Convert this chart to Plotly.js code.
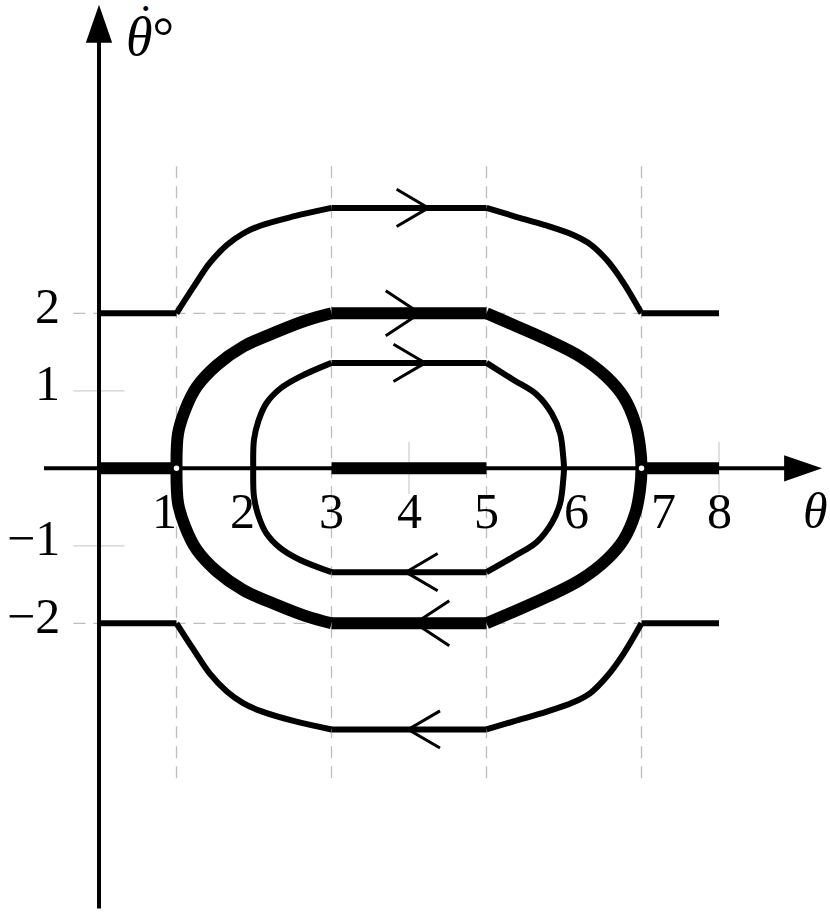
<!DOCTYPE html>
<html>
<head>
<meta charset="utf-8">
<script src="https://cdn.plot.ly/plotly-3.0.1.min.js"></script>
<style>
  html, body { margin: 0; padding: 0; background: #fff; }
  #phase { width: 830px; height: 913px; }
</style>
</head>
<body>
<div id="phase"></div>
<script>
// tick labels
const xTickVals = [1, 2, 3, 4, 5, 6, 7, 8];
const xTickText = ['1', '2', '3', '4', '5', '6', '7', '8'];
const yTickVals = [2, 1, -1, -2];
const yTickText = ['2', '1', '\u22121', '\u22122'];

// orbits outside the separatrix (left and right bends share x)
const outerLeftX = [1, 1.22, 1.43, 1.65, 1.86, 2.08, 2.51, 3];
const outerUpperLeftY = [2, 2.34, 2.65, 2.88, 3.03, 3.13, 3.25, 3.36];
const outerLowerLeftY = [-2, -2.34, -2.65, -2.88, -3.03, -3.13, -3.26, -3.37];
const outerRightX = [5, 5.35, 5.78, 6.12, 6.34, 6.55, 6.77, 7];
const outerUpperRightY = [3.36, 3.255, 3.13, 3.01, 2.89, 2.69, 2.39, 2];
const outerLowerRightY = [-3.37, -3.265, -3.14, -3.02, -2.9, -2.69, -2.39, -2];
const outerUpperFlatY = [2, 3.36, 2];
const outerLowerFlatY = [-2, -3.37, -2];
const flatSpans = [[0, 1], [3, 5], [7, 8]];

// separatrix
const sepLeftX = [3, 2.68, 2.29, 1.86, 1.52, 1.26, 1.11, 1.02, 1, 1.02, 1.11, 1.26, 1.52, 1.86, 2.29, 2.68, 3];
const sepLeftY = [-2, -1.91, -1.76, -1.57, -1.33, -1.05, -0.75, -0.45, 0, 0.45, 0.75, 1.05, 1.33, 1.57, 1.76, 1.91, 2];
const sepRightX = [5, 5.35, 5.78, 6.21, 6.55, 6.77, 6.92, 6.98, 7, 6.98, 6.92, 6.77, 6.55, 6.21, 5.78, 5.35, 5];
const sepRightY = [2, 1.85, 1.66, 1.44, 1.18, 0.92, 0.58, 0.28, 0, -0.28, -0.58, -0.92, -1.18, -1.44, -1.66, -1.85, -2];
const sepFlatY = [2, -2];
const sepAxisSpans = [[0, 1], [3, 5], [7, 8]];
const saddleX = [1, 7];
const saddleY = [0, 0];

// closed orbit inside
const innerLeftX = [3, 2.59, 2.34, 2.16, 2.06, 2.0, 1.99, 2.0, 2.06, 2.16, 2.34, 2.59, 3];
const innerLeftY = [-1.34, -1.18, -1.03, -0.84, -0.62, -0.37, 0, 0.37, 0.62, 0.84, 1.03, 1.18, 1.36];
const innerRightX = [5, 5.35, 5.65, 5.84, 5.95, 5.99, 6.0, 5.99, 5.95, 5.84, 5.65, 5.35, 5];
const innerRightY = [1.36, 1.14, 0.95, 0.71, 0.45, 0.15, 0, -0.15, -0.45, -0.71, -0.95, -1.14, -1.34];
const innerFlatY = [1.36, -1.34];

// direction chevrons
const chevronX = [4.25, 4.14, 4.21, 3.96, 4.08, 3.99];
const chevronY = [3.36, 2, 1.36, -1.34, -2, -3.37];
const chevronDir = [1, 1, 1, -1, -1, -1];

// guide lines
const dashedX = [1, 3, 5, 7];
const dashedY = [2, -2];
const minorXTicks = [2, 4, 6, 8];
const minorYTicks = [1, -1];

const INK = '#000';
const GUIDE = '#bdbdbd';
const THIN = 6;
const THICK = 12;
const FONT = 'Liberation Serif, Times New Roman, serif';

const traces = [];

const line = (x, y, width, opts = {}) => {
  traces.push({
    x, y,
    type: 'scatter',
    mode: 'lines',
    hoverinfo: 'skip',
    line: Object.assign({ color: INK, width }, opts)
  });
};

// dashed guides + light ticks
dashedX.forEach(v => line([v, v], [-4, 4], 1.3, { color: GUIDE, dash: '12px,8px' }));
dashedY.forEach(v => line([-0.33, 7], [v, v], 1.3, { color: GUIDE, dash: '12px,8px' }));
minorXTicks.forEach(v => line([v, v], [-0.33, 0.34], 1.3, { color: '#cfcfcf' }));
minorYTicks.forEach(v => line([-0.33, 0.33], [v, v], 1.3, { color: '#cfcfcf' }));

// axes
const xTip = 9.33, yTip = 5.98, headLen = 0.49, headHalf = 0.17;
line([-0.71, xTip - headLen + 0.05], [0, 0], 4);
line([0, 0], [-5.68, yTip - headLen + 0.05], 4);
traces.push({
  x: [xTip, xTip - headLen, xTip - headLen, xTip],
  y: [0, headHalf, -headHalf, 0],
  type: 'scatter', mode: 'lines', fill: 'toself', fillcolor: INK,
  line: { width: 0, color: INK }, hoverinfo: 'skip'
});
traces.push({
  x: [0, headHalf, -headHalf, 0],
  y: [yTip, yTip - headLen, yTip - headLen, yTip],
  type: 'scatter', mode: 'lines', fill: 'toself', fillcolor: INK,
  line: { width: 0, color: INK }, hoverinfo: 'skip'
});

// outer orbits
flatSpans.forEach((s, i) => {
  line(s, [outerUpperFlatY[i], outerUpperFlatY[i]], THIN);
  line(s, [outerLowerFlatY[i], outerLowerFlatY[i]], THIN);
});
line(outerLeftX, outerUpperLeftY, THIN, { shape: 'spline' });
line(outerRightX, outerUpperRightY, THIN, { shape: 'spline' });
line(outerLeftX, outerLowerLeftY, THIN, { shape: 'spline' });
line(outerRightX, outerLowerRightY, THIN, { shape: 'spline' });

// inner orbit
innerFlatY.forEach(v => line([3, 5], [v, v], THIN));
line(innerLeftX, innerLeftY, THIN, { shape: 'spline' });
line(innerRightX, innerRightY, THIN, { shape: 'spline' });

// separatrix
sepAxisSpans.forEach(s => line(s, [0, 0], THICK));
sepFlatY.forEach(v => line([3, 5], [v, v], THICK));
line(sepLeftX, sepLeftY, THICK, { shape: 'spline' });
line(sepRightX, sepRightY, THICK, { shape: 'spline' });

// chevrons
chevronX.forEach((cx, i) => {
  const d = chevronDir[i];
  const big = Math.abs(chevronY[i]) === 2;
  const ax = big ? 0.44 : 0.41;
  const ay = big ? 0.29 : 0.24;
  line([cx - d * ax, cx, cx - d * ax], [chevronY[i] + ay, chevronY[i], chevronY[i] - ay], 3);
});

// saddle points
traces.push({
  x: saddleX, y: saddleY,
  type: 'scatter', mode: 'markers', hoverinfo: 'skip',
  marker: { size: 8, color: '#fff', line: { color: INK, width: 2.5 } }
});

// labels
const xNudge = { 1: -0.15, 2: -0.15, 6: 0.16, 7: 0.28 };
const annotations = [];
xTickVals.forEach((v, i) => {
  annotations.push({
    x: v + (xNudge[v] || 0), y: -0.55, text: xTickText[i],
    showarrow: false, xanchor: 'center', yanchor: 'middle',
    font: { family: FONT, size: 50, color: INK }
  });
});
yTickVals.forEach((v, i) => {
  annotations.push({
    x: -0.48, y: v + 0.1, text: yTickText[i],
    showarrow: false, xanchor: 'right', yanchor: 'middle',
    font: { family: FONT, size: 50, color: INK }
  });
});
annotations.push({
  x: 9.24, y: -0.55, text: '<i>\u03b8</i>', showarrow: false,
  xanchor: 'center', yanchor: 'middle',
  font: { family: FONT, size: 50, color: INK }
});
annotations.push({
  x: 0.66, y: 5.56, text: '<i>\u03b8</i>\u00b0', showarrow: false,
  xanchor: 'center', yanchor: 'middle',
  font: { family: FONT, size: 54, color: INK }
});
// dot over theta
annotations.push({
  x: 0.6, y: 5.76, text: '\u02d9', showarrow: false,
  xanchor: 'center', yanchor: 'middle',
  font: { family: FONT, size: 46, color: INK }
});

const layout = {
  width: 830,
  height: 913,
  margin: { l: 0, r: 0, t: 0, b: 0 },
  paper_bgcolor: '#fff',
  plot_bgcolor: '#fff',
  showlegend: false,
  hovermode: false,
  xaxis: { range: [-1.2774, 9.4323], visible: false, fixedrange: true },
  yaxis: { range: [-5.738, 6.0426], visible: false, fixedrange: true },
  annotations
};

Plotly.newPlot('phase', traces, layout, { staticPlot: true, displayModeBar: false });
</script>
</body>
</html>
